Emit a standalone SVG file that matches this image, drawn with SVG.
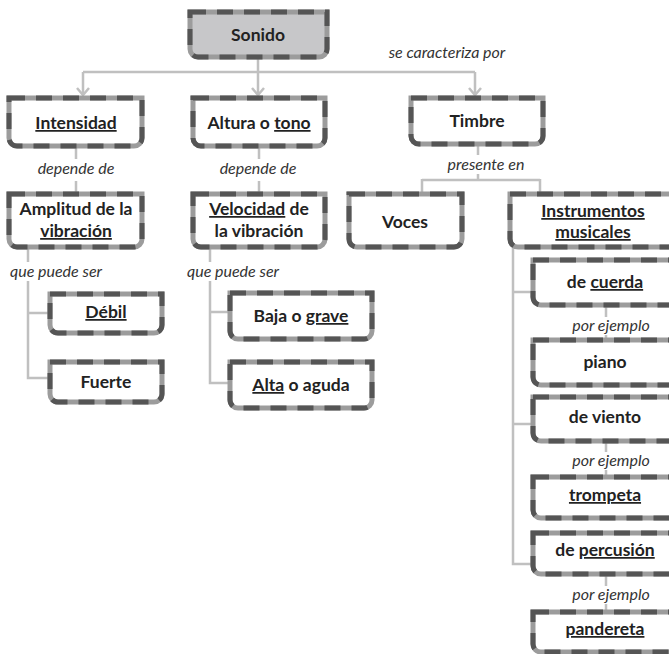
<svg xmlns="http://www.w3.org/2000/svg" width="669" height="654" viewBox="0 0 669 654">
  <defs>
    <style>
      .frame { fill: #ffffff; stroke: #9c9c9c; stroke-width: 5; stroke-linejoin: miter; }
      .frame.head { fill: #c7c7c9; }
      .dash { fill: none; stroke: #555555; stroke-width: 5; stroke-dasharray: 16 11; stroke-linejoin: miter; }
      .lbl { font-family: Lato, "Open Sans", sans-serif; font-weight: bold; font-size: 17.5px; fill: #222222; text-anchor: middle; }
      .u { text-decoration: underline; }
      .rel { font-family: Lato, "Open Sans", sans-serif; font-style: italic; font-size: 16px; fill: #333333; text-anchor: middle; }
      .wire { fill: none; stroke: #c0c0c0; stroke-width: 2.5; }
      .chev { fill: none; stroke: #c0c0c0; stroke-width: 2.5; }
    </style>
  </defs>

  <!-- connectors -->
  <g id="connectors">
    <path class="wire" d="M258,57 V72 M83,72 H475"/>
    <path class="wire" d="M83,72 V95 M258,72 V95 M475,72 V95"/>
    <path class="chev" d="M77,88 L83,95 L89,88 M252,88 L258,95 L264,88 M469,88 L475,95 L481,88"/>
    <path class="wire" d="M76,146 V159 M76,181 V194"/>
    <path class="wire" d="M259,146 V159 M259,181 V194"/>
    <path class="wire" d="M478,144 V155 M478,174 V180 M422,180 H540 M422,179 V194 M540,179 V194"/>
    <path class="wire" d="M28,247 V262 M28,281 V378 H50 M28,313 H50"/>
    <path class="wire" d="M210,247 V262 M210,281 V383 H230 M210,312 H230"/>
    <path class="wire" d="M513,247 V564 H533 M513,292 H533 M513,424 H533"/>
    <path class="wire" d="M606,305 V317 M606,335 V340"/>
    <path class="wire" d="M606,441 V452 M606,470 V477"/>
    <path class="wire" d="M606,574 V586 M606,604 V612"/>
  </g>

  <!-- relation labels -->
  <g id="relations">
    <text class="rel" x="447" y="58">se caracteriza por</text>
    <text class="rel" x="76" y="174">depende de</text>
    <text class="rel" x="258" y="174">depende de</text>
    <text class="rel" x="486" y="170">presente en</text>
    <text class="rel" x="56" y="277">que puede ser</text>
    <text class="rel" x="233" y="277">que puede ser</text>
    <text class="rel" x="611" y="331">por ejemplo</text>
    <text class="rel" x="611" y="466">por ejemplo</text>
    <text class="rel" x="611" y="600">por ejemplo</text>
  </g>

  <!-- nodes -->
  <g id="n-sonido">
    <path class="frame head" d="M190,12 H327 V49 A8,8 0 0 1 319,57 H198 A8,8 0 0 1 190,49 Z"/>
    <path class="dash" d="M190,12 H327 V49 A8,8 0 0 1 319,57 H198 A8,8 0 0 1 190,49 Z"/>
    <text class="lbl" x="258" y="41">Sonido</text>
  </g>
  <g id="n-intensidad">
    <path class="frame" d="M9,98 H142 V138 A8,8 0 0 1 134,146 H17 A8,8 0 0 1 9,138 Z"/>
    <path class="dash" d="M9,98 H142 V138 A8,8 0 0 1 134,146 H17 A8,8 0 0 1 9,138 Z"/>
    <text class="lbl u" x="76" y="129">Intensidad</text>
  </g>
  <g id="n-altura">
    <path class="frame" d="M193,98 H325 V138 A8,8 0 0 1 317,146 H201 A8,8 0 0 1 193,138 Z"/>
    <path class="dash" d="M193,98 H325 V138 A8,8 0 0 1 317,146 H201 A8,8 0 0 1 193,138 Z"/>
    <text class="lbl" x="259" y="129">Altura o <tspan class="u">tono</tspan></text>
  </g>
  <g id="n-timbre">
    <path class="frame" d="M411,98 H543 V136 A8,8 0 0 1 535,144 H419 A8,8 0 0 1 411,136 Z"/>
    <path class="dash" d="M411,98 H543 V136 A8,8 0 0 1 535,144 H419 A8,8 0 0 1 411,136 Z"/>
    <text class="lbl" x="477" y="127">Timbre</text>
  </g>
  <g id="n-amplitud">
    <path class="frame" d="M9,194 H142 V239 A8,8 0 0 1 134,247 H17 A8,8 0 0 1 9,239 Z"/>
    <path class="dash" d="M9,194 H142 V239 A8,8 0 0 1 134,247 H17 A8,8 0 0 1 9,239 Z"/>
    <text class="lbl" x="76" y="215">Amplitud de la</text>
    <text class="lbl u" x="76" y="237">vibración</text>
  </g>
  <g id="n-velocidad">
    <path class="frame" d="M193,194 H325 V239 A8,8 0 0 1 317,247 H201 A8,8 0 0 1 193,239 Z"/>
    <path class="dash" d="M193,194 H325 V239 A8,8 0 0 1 317,247 H201 A8,8 0 0 1 193,239 Z"/>
    <text class="lbl" x="259" y="215"><tspan class="u">Velocidad</tspan> de</text>
    <text class="lbl" x="259" y="237">la vibración</text>
  </g>
  <g id="n-voces">
    <path class="frame" d="M349,194 H462 V239 A8,8 0 0 1 454,247 H357 A8,8 0 0 1 349,239 Z"/>
    <path class="dash" d="M349,194 H462 V239 A8,8 0 0 1 454,247 H357 A8,8 0 0 1 349,239 Z"/>
    <text class="lbl" x="405" y="228">Voces</text>
  </g>
  <g id="n-instrumentos">
    <path class="frame" d="M510,194 H676 V239 A8,8 0 0 1 668,247 H518 A8,8 0 0 1 510,239 Z"/>
    <path class="dash" d="M510,194 H676 V239 A8,8 0 0 1 668,247 H518 A8,8 0 0 1 510,239 Z"/>
    <text class="lbl u" x="593" y="217">Instrumentos</text>
    <text class="lbl u" x="593" y="238">musicales</text>
  </g>
  <g id="n-debil">
    <path class="frame" d="M50,294 H162 V325 A8,8 0 0 1 154,333 H58 A8,8 0 0 1 50,325 Z"/>
    <path class="dash" d="M50,294 H162 V325 A8,8 0 0 1 154,333 H58 A8,8 0 0 1 50,325 Z"/>
    <text class="lbl u" x="106" y="318">Débil</text>
  </g>
  <g id="n-fuerte">
    <path class="frame" d="M50,362 H162 V394 A8,8 0 0 1 154,402 H58 A8,8 0 0 1 50,394 Z"/>
    <path class="dash" d="M50,362 H162 V394 A8,8 0 0 1 154,402 H58 A8,8 0 0 1 50,394 Z"/>
    <text class="lbl" x="106" y="388">Fuerte</text>
  </g>
  <g id="n-baja">
    <path class="frame" d="M230,293 H372 V331 A8,8 0 0 1 364,339 H238 A8,8 0 0 1 230,331 Z"/>
    <path class="dash" d="M230,293 H372 V331 A8,8 0 0 1 364,339 H238 A8,8 0 0 1 230,331 Z"/>
    <text class="lbl" x="301" y="322">Baja o <tspan class="u">grave</tspan></text>
  </g>
  <g id="n-alta">
    <path class="frame" d="M230,362 H372 V400 A8,8 0 0 1 364,408 H238 A8,8 0 0 1 230,400 Z"/>
    <path class="dash" d="M230,362 H372 V400 A8,8 0 0 1 364,408 H238 A8,8 0 0 1 230,400 Z"/>
    <text class="lbl" x="301" y="391"><tspan class="u">Alta</tspan> o aguda</text>
  </g>
  <g id="n-cuerda">
    <path class="frame" d="M533,260 H677 V297 A8,8 0 0 1 669,305 H541 A8,8 0 0 1 533,297 Z"/>
    <path class="dash" d="M533,260 H677 V297 A8,8 0 0 1 669,305 H541 A8,8 0 0 1 533,297 Z"/>
    <text class="lbl" x="605" y="288">de <tspan class="u">cuerda</tspan></text>
  </g>
  <g id="n-piano">
    <path class="frame" d="M533,340 H677 V377 A8,8 0 0 1 669,385 H541 A8,8 0 0 1 533,377 Z"/>
    <path class="dash" d="M533,340 H677 V377 A8,8 0 0 1 669,385 H541 A8,8 0 0 1 533,377 Z"/>
    <text class="lbl" x="605" y="368">piano</text>
  </g>
  <g id="n-viento">
    <path class="frame" d="M533,397 H677 V433 A8,8 0 0 1 669,441 H541 A8,8 0 0 1 533,433 Z"/>
    <path class="dash" d="M533,397 H677 V433 A8,8 0 0 1 669,441 H541 A8,8 0 0 1 533,433 Z"/>
    <text class="lbl" x="605" y="423">de viento</text>
  </g>
  <g id="n-trompeta">
    <path class="frame" d="M533,477 H677 V510 A8,8 0 0 1 669,518 H541 A8,8 0 0 1 533,510 Z"/>
    <path class="dash" d="M533,477 H677 V510 A8,8 0 0 1 669,518 H541 A8,8 0 0 1 533,510 Z"/>
    <text class="lbl u" x="605" y="501">trompeta</text>
  </g>
  <g id="n-percusion">
    <path class="frame" d="M533,533 H677 V566 A8,8 0 0 1 669,574 H541 A8,8 0 0 1 533,566 Z"/>
    <path class="dash" d="M533,533 H677 V566 A8,8 0 0 1 669,574 H541 A8,8 0 0 1 533,566 Z"/>
    <text class="lbl" x="605" y="556">de <tspan class="u">percusión</tspan></text>
  </g>
  <g id="n-pandereta">
    <path class="frame" d="M533,612 H677 V644 A8,8 0 0 1 669,652 H541 A8,8 0 0 1 533,644 Z"/>
    <path class="dash" d="M533,612 H677 V644 A8,8 0 0 1 669,652 H541 A8,8 0 0 1 533,644 Z"/>
    <text class="lbl u" x="605" y="635">pandereta</text>
  </g>
</svg>
